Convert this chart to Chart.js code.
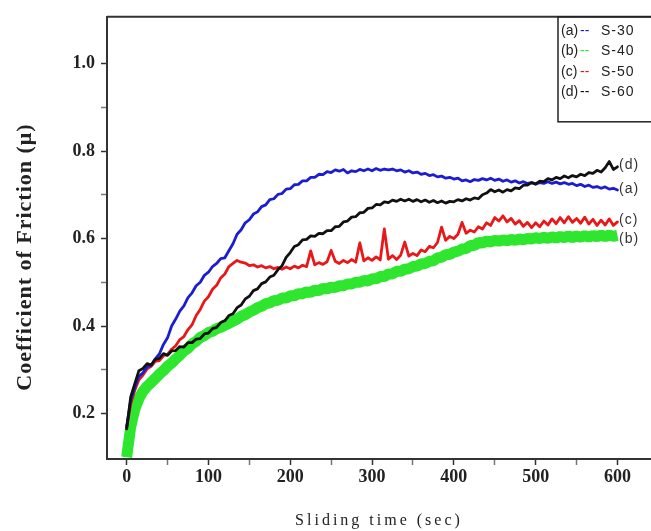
<!DOCTYPE html>
<html>
<head>
<meta charset="utf-8">
<script src="https://cdn.jsdelivr.net/npm/chart.js@4.4.1/dist/chart.umd.min.js"></script>
<style>
  html, body { margin: 0; padding: 0; background: #fff; }
  #wrap { width: 651px; height: 531px; }
</style>
</head>
<body>
<div id="wrap"><canvas id="cof" width="651" height="531"></canvas></div>
<script>
// Sliding time (sec), one reading every 5 s
const timeSec = [];
for (let t = 0; t <= 600; t += 5) timeSec.push(t);

// (a) S-30
const s30 = [
  0.170, 0.230, 0.260, 0.285, 0.293, 0.307, 0.310, 0.325, 0.336, 0.358,
  0.373, 0.400, 0.416, 0.434, 0.446, 0.465, 0.476, 0.492, 0.500, 0.516,
  0.523, 0.536, 0.543, 0.554, 0.556, 0.572, 0.588, 0.610, 0.620, 0.636,
  0.643, 0.656, 0.661, 0.673, 0.677, 0.689, 0.691, 0.701, 0.703, 0.713,
  0.714, 0.723, 0.724, 0.732, 0.732, 0.740, 0.740, 0.747, 0.746, 0.753,
  0.751, 0.757, 0.754, 0.758, 0.750, 0.755, 0.753, 0.758, 0.755, 0.759,
  0.755, 0.760, 0.756, 0.759, 0.757, 0.759, 0.755, 0.757, 0.752, 0.755,
  0.750, 0.752, 0.747, 0.749, 0.744, 0.746, 0.741, 0.743, 0.738, 0.740,
  0.736, 0.738, 0.732, 0.734, 0.730, 0.735, 0.733, 0.737, 0.734, 0.738,
  0.733, 0.736, 0.731, 0.734, 0.729, 0.732, 0.727, 0.730, 0.726, 0.728,
  0.724, 0.728, 0.726, 0.730, 0.726, 0.729, 0.725, 0.728, 0.724, 0.726,
  0.721, 0.724, 0.719, 0.722, 0.717, 0.719, 0.715, 0.718, 0.713, 0.715,
  0.711
];

// (b) S-40
const s40 = [
  0.100, 0.170, 0.210, 0.234, 0.251, 0.262, 0.271, 0.280, 0.290, 0.298,
  0.308, 0.315, 0.325, 0.333, 0.343, 0.349, 0.359, 0.365, 0.374, 0.378,
  0.385, 0.388, 0.394, 0.397, 0.402, 0.406, 0.411, 0.416, 0.422, 0.426,
  0.432, 0.436, 0.442, 0.445, 0.451, 0.453, 0.458, 0.459, 0.464, 0.464,
  0.469, 0.469, 0.474, 0.474, 0.478, 0.477, 0.482, 0.481, 0.486, 0.485,
  0.489, 0.488, 0.492, 0.492, 0.496, 0.496, 0.500, 0.500, 0.504, 0.503,
  0.508, 0.508, 0.513, 0.513, 0.519, 0.519, 0.525, 0.525, 0.530, 0.531,
  0.536, 0.537, 0.542, 0.543, 0.548, 0.549, 0.556, 0.557, 0.563, 0.564,
  0.569, 0.571, 0.576, 0.577, 0.584, 0.584, 0.591, 0.590, 0.594, 0.592,
  0.596, 0.594, 0.597, 0.595, 0.598, 0.596, 0.599, 0.597, 0.600, 0.599,
  0.602, 0.600, 0.603, 0.600, 0.604, 0.601, 0.605, 0.602, 0.606, 0.602,
  0.606, 0.603, 0.607, 0.603, 0.607, 0.604, 0.608, 0.604, 0.608, 0.605,
  0.607
];

// (c) S-50
const s50 = [
  0.165, 0.222, 0.253, 0.277, 0.288, 0.302, 0.308, 0.319, 0.321, 0.332,
  0.335, 0.347, 0.355, 0.369, 0.376, 0.392, 0.403, 0.424, 0.438, 0.457,
  0.467, 0.484, 0.493, 0.510, 0.519, 0.536, 0.543, 0.550, 0.546, 0.544,
  0.538, 0.540, 0.535, 0.538, 0.533, 0.536, 0.531, 0.534, 0.530, 0.535,
  0.531, 0.537, 0.533, 0.539, 0.536, 0.572, 0.540, 0.545, 0.541, 0.547,
  0.573, 0.548, 0.543, 0.550, 0.545, 0.552, 0.546, 0.590, 0.549, 0.556,
  0.550, 0.558, 0.551, 0.622, 0.553, 0.561, 0.552, 0.562, 0.592, 0.560,
  0.566, 0.561, 0.574, 0.570, 0.582, 0.579, 0.591, 0.626, 0.596, 0.605,
  0.600, 0.610, 0.637, 0.612, 0.619, 0.615, 0.627, 0.622, 0.636, 0.630,
  0.648, 0.640, 0.652, 0.638, 0.646, 0.633, 0.641, 0.628, 0.637, 0.625,
  0.636, 0.627, 0.640, 0.631, 0.645, 0.634, 0.648, 0.636, 0.650, 0.637,
  0.646, 0.635, 0.649, 0.633, 0.644, 0.630, 0.642, 0.631, 0.645, 0.630,
  0.638
];

// (d) S-60
const s60 = [
  0.165, 0.238, 0.268, 0.298, 0.303, 0.314, 0.311, 0.324, 0.326, 0.337,
  0.333, 0.343, 0.344, 0.353, 0.352, 0.362, 0.362, 0.370, 0.371, 0.382,
  0.384, 0.394, 0.397, 0.408, 0.412, 0.424, 0.428, 0.442, 0.448, 0.462,
  0.468, 0.481, 0.485, 0.497, 0.501, 0.512, 0.516, 0.529, 0.538, 0.557,
  0.568, 0.582, 0.586, 0.597, 0.598, 0.606, 0.605, 0.612, 0.611, 0.618,
  0.618, 0.627, 0.628, 0.638, 0.640, 0.649, 0.650, 0.659, 0.660, 0.669,
  0.670, 0.678, 0.677, 0.684, 0.682, 0.688, 0.685, 0.690, 0.686, 0.690,
  0.685, 0.689, 0.684, 0.688, 0.683, 0.687, 0.682, 0.686, 0.681, 0.685,
  0.684, 0.689, 0.686, 0.691, 0.688, 0.693, 0.691, 0.700, 0.704, 0.712,
  0.707, 0.711, 0.706, 0.712, 0.709, 0.716, 0.714, 0.722, 0.722, 0.728,
  0.725, 0.731, 0.730, 0.737, 0.734, 0.740, 0.737, 0.743, 0.739, 0.744,
  0.741, 0.747, 0.744, 0.751, 0.749, 0.756, 0.752, 0.762, 0.776, 0.758,
  0.764
];

const seriesNames = ['S-30', 'S-40', 'S-50', 'S-60'];
const seriesTags = ['(a)', '(b)', '(c)', '(d)'];
const seriesColors = ['#1c1cd0', '#2ee62e', '#e81818', '#111111'];

const xTicks = [0, 50, 100, 150, 200, 250, 300, 350, 400, 450, 500, 550, 600];
const yTicks = [0.2, 0.3, 0.4, 0.5, 0.6, 0.7, 0.8, 0.9, 1.0];

function toPoints(values) {
  return values.map((v, i) => ({ x: timeSec[i], y: v }));
}

// frame top line, boxed legend, end labels and axis titles
const decorations = {
  id: 'decorations',
  afterDraw(chart) {
    const ctx = chart.ctx;
    const area = chart.chartArea;
    ctx.save();

    // top frame line
    ctx.strokeStyle = '#333';
    ctx.lineWidth = 2;
    ctx.beginPath();
    ctx.moveTo(area.left, area.top);
    ctx.lineTo(area.right, area.top);
    ctx.stroke();

    // legend box
    ctx.lineWidth = 1.5;
    ctx.strokeStyle = '#222';
    ctx.strokeRect(558, area.top, 110, 105);
    ctx.font = '14px "Liberation Sans", Arial, sans-serif';
    ctx.textBaseline = 'middle';
    ctx.textAlign = 'left';
    const rowY = [31, 51.5, 72, 92.5];
    seriesNames.forEach((name, i) => {
      ctx.fillStyle = '#222';
      ctx.fillText(seriesTags[i], 561, rowY[i]);
      ctx.fillStyle = seriesColors[i];
      ctx.fillText('--', 580, rowY[i]);
      ctx.fillStyle = '#222';
      ctx.letterSpacing = '1px';
      ctx.fillText(name, 601, rowY[i]);
      ctx.letterSpacing = '0px';
    });

    // labels at the curve ends
    const endLabels = [['(d)', 165], ['(a)', 189], ['(c)', 220], ['(b)', 239]];
    ctx.fillStyle = '#333';
    ctx.letterSpacing = '1px';
    endLabels.forEach(([txt, y]) => ctx.fillText(txt, 619, y));

    // x title
    ctx.font = '16px "Liberation Serif", "Times New Roman", serif';
    ctx.letterSpacing = '3px';
    ctx.textAlign = 'center';
    ctx.fillStyle = '#222';
    ctx.fillText('Sliding time (sec)', (area.left + area.right) / 2, 521);

    // y title
    ctx.letterSpacing = '1px';
    ctx.font = 'bold 22px "Liberation Serif", "Times New Roman", serif';
    ctx.translate(25, 257);
    ctx.rotate(-Math.PI / 2);
    ctx.fillText('Coefficient of Friction (\u03bc)', 0, 0);

    ctx.restore();
  }
};

const tickFont = { family: '"Liberation Serif", "Times New Roman", serif', size: 18, weight: 'bold' };

new Chart(document.getElementById('cof'), {
  type: 'line',
  data: {
    datasets: [
      { label: 'S-60', data: toPoints(s60), borderColor: seriesColors[3], borderWidth: 2.8, order: 1 },
      { label: 'S-30', data: toPoints(s30), borderColor: seriesColors[0], borderWidth: 2.8, order: 2 },
      { label: 'S-50', data: toPoints(s50), borderColor: seriesColors[2], borderWidth: 2.8, order: 3 },
      { label: 'S-40', data: toPoints(s40), borderColor: seriesColors[1], borderWidth: 11,
        borderJoinStyle: 'bevel', borderCapStyle: 'butt', order: 4 }
    ]
  },
  options: {
    responsive: false,
    animation: false,
    layout: { padding: { top: 13, right: 0, left: 0, bottom: 0 } },
    elements: {
      point: { radius: 0 },
      line: { tension: 0, borderJoinStyle: 'round', borderCapStyle: 'round' }
    },
    plugins: { legend: { display: false }, tooltip: { enabled: false } },
    scales: {
      x: {
        type: 'linear',
        min: -24,
        max: 641,
        afterBuildTicks: s => { s.ticks = xTicks.map(v => ({ value: v })); },
        afterFit: s => { s.height = 72; },
        ticks: {
          color: '#222',
          font: tickFont,
          padding: 2,
          maxRotation: 0,
          callback: v => (v % 100 === 0 ? String(v) : '')
        },
        grid: {
          drawOnChartArea: false,
          tickLength: 6,
          tickColor: c => (c.tick && c.tick.value % 100 === 0 ? '#333' : '#777'),
          tickWidth: 1.5
        },
        border: { color: '#333', width: 2 }
      },
      y: {
        min: 0.096,
        max: 1.107,
        afterBuildTicks: s => { s.ticks = yTicks.map(v => ({ value: v })); },
        afterFit: s => { s.width = 107; },
        ticks: {
          color: '#222',
          font: tickFont,
          padding: 6,
          callback: v => (Math.round(v * 10) % 2 === 0 ? v.toFixed(1) : '')
        },
        grid: {
          drawOnChartArea: false,
          tickLength: 6,
          tickColor: c => (c.tick && Math.round(c.tick.value * 10) % 2 === 0 ? '#333' : '#777'),
          tickWidth: 1.5
        },
        border: { color: '#333', width: 2 }
      }
    }
  },
  plugins: [decorations]
});
</script>
</body>
</html>
